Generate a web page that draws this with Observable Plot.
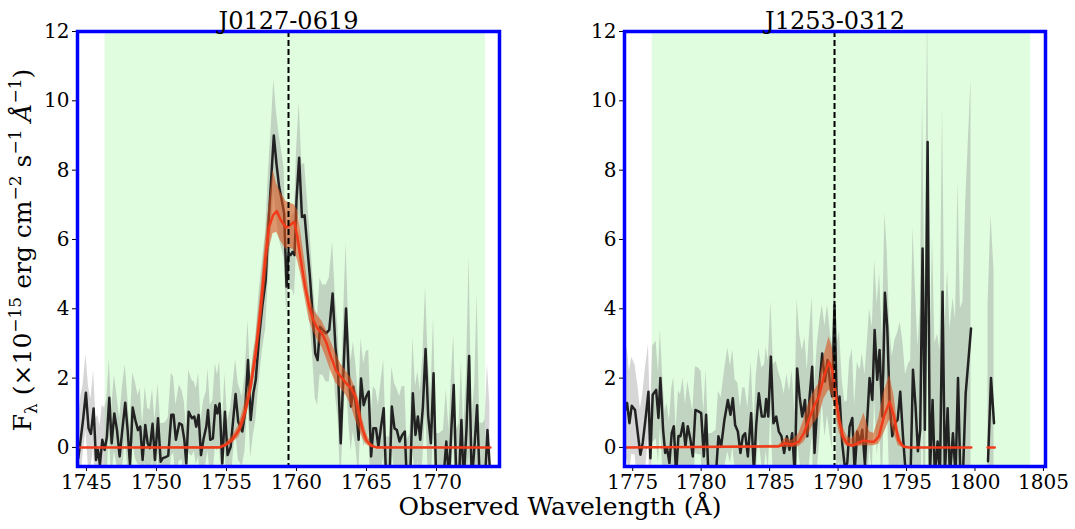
<!DOCTYPE html>
<html><head><meta charset="utf-8">
<script src="https://cdn.jsdelivr.net/npm/d3@7"></script>
<script src="https://cdn.jsdelivr.net/npm/@observablehq/plot@0.6"></script>
<style>
body{margin:0;background:#fff;}
#fig{position:relative;width:1075px;height:529px;font-family:"DejaVu Serif",serif;color:#000;overflow:hidden}
#fig svg{position:absolute;top:0;overflow:visible}
.ylab{position:absolute;left:23px;top:250px;transform:translate(-50%,-50%) rotate(-90deg);white-space:nowrap;font-size:25px;}
.ylab sup,.ylab sub{font-size:17px;}
.xlab{position:absolute;left:560px;top:506px;transform:translate(-50%,-50%);white-space:nowrap;font-size:25px;}
</style></head><body><div id="fig"></div>
<script>
// Panel titles, rest wavelengths (dashed lines), fit windows (green)
const titles = ["J0127-0619", "J1253-0312"];
const centers = [1759.43, 1789.74];
const windows = [[1746.33, 1773.5], [1776.42, 1804.07]];
const xTicksA = [1745, 1750, 1755, 1760, 1765, 1770];
const xTicksB = [1775, 1780, 1785, 1790, 1795, 1800, 1805];
const yTicks = [0, 2, 4, 6, 8, 10, 12];

// Observed spectrum: [wavelength, flux, error]
const specA = [
[1744.42,-0.31,1.1],[1744.61,0.31,1.2],[1744.75,0.77,1.0],[1744.96,1.58,1.1],[1745.15,0.55,1.2],[1745.32,0.39,1.0],[1745.51,1.12,1.1],[1745.68,-0.36,1.2],[1745.82,-0.07,1.0],[1745.96,-0.50,1.1],[1746.13,0.22,1.0],[1746.30,-0.07,1.2],[1746.46,0.31,1.1],[1746.63,1.43,1.1],[1746.80,0.12,1.0],[1746.99,0.98,1.1],[1747.18,0.50,1.0],[1747.37,-0.26,1.1],[1747.56,0.50,1.2],[1747.77,1.29,1.1],[1747.94,0.50,1.0],[1748.11,-0.50,1.1],[1748.30,1.15,1.0],[1748.49,0.79,1.1],[1748.68,0.50,1.0],[1748.84,0.60,1.1],[1749.01,-0.36,1.0],[1749.20,0.65,1.1],[1749.37,0.12,1.0],[1749.53,-0.02,1.1],[1749.72,0.68,1.0],[1749.89,-0.36,1.1],[1750.11,0.84,1.0],[1750.30,-0.41,1.1],[1750.46,-0.31,1.0],[1750.65,-0.28,1.0],[1750.84,-0.24,1.1],[1751.06,0.94,1.2],[1751.22,0.94,1.1],[1751.39,0.22,1.0],[1751.63,0.70,1.1],[1751.82,0.65,1.0],[1751.99,0.22,1.1],[1752.13,-0.46,1.0],[1752.30,1.03,1.2],[1752.53,0.84,1.1],[1752.70,0.89,1.0],[1752.84,0.60,1.1],[1753.01,0.94,1.2],[1753.18,-0.22,1.0],[1753.37,0.26,1.1],[1753.56,0.60,1.0],[1753.68,1.08,1.2],[1753.84,0.22,1.0],[1754.03,0.26,1.1],[1754.21,1.22,1.2],[1754.35,0.98,1.1],[1754.51,1.27,1.2],[1754.70,-0.46,1.0],[1754.89,1.03,1.1],[1755.08,-0.22,1.0],[1755.30,0.02,1.1],[1755.65,1.54,1.0],[1755.84,0.74,1.1],[1756.13,0.46,1.0],[1756.32,0.98,1.1],[1756.54,2.52,1.15],[1756.73,0.79,1.1],[1756.92,1.56,1.2],[1757.09,1.95,1.2],[1757.33,3.19,1.3],[1757.57,4.11,1.3],[1757.80,4.83,1.4],[1758.00,6.46,1.5],[1758.19,7.71,1.5],[1758.38,9.00,1.6],[1758.57,8.19,1.5],[1758.76,7.52,1.5],[1758.95,7.13,1.4],[1759.12,6.75,1.3],[1759.29,4.64,0.8],[1759.43,5.60,0.9],[1759.58,5.55,1.0],[1759.72,5.64,1.1],[1759.86,5.55,1.2],[1760.00,7.13,1.4],[1760.19,8.36,1.6],[1760.39,6.65,1.5],[1760.58,6.70,1.5],[1760.77,5.79,1.4],[1760.96,4.92,1.3],[1761.15,3.87,1.2],[1761.34,2.71,1.3],[1761.51,2.52,1.3],[1761.68,3.48,1.4],[1761.87,3.39,1.3],[1762.11,3.29,1.4],[1762.34,3.39,1.5],[1762.58,4.44,1.5],[1762.78,2.91,1.4],[1762.97,2.14,1.3],[1763.16,0.12,1.2],[1763.35,2.14,1.5],[1763.54,4.01,1.9],[1763.73,2.14,1.4],[1763.90,1.18,1.3],[1764.06,1.75,1.3],[1764.25,1.18,1.2],[1764.44,0.22,1.1],[1764.61,1.99,1.15],[1764.80,1.22,1.2],[1764.97,1.46,1.3],[1765.16,1.61,1.2],[1765.33,-0.26,1.1],[1765.49,0.55,1.2],[1765.68,0.55,1.1],[1765.85,0.02,1.2],[1766.04,0.60,1.3],[1766.23,1.13,1.4],[1766.40,-0.90,1.2],[1766.64,-1.00,1.3],[1766.81,1.18,1.15],[1767.00,0.55,1.3],[1767.17,0.50,1.2],[1767.36,0.17,1.3],[1767.55,0.36,1.4],[1767.74,0.46,1.3],[1767.88,-1.00,1.2],[1768.12,-0.90,1.3],[1768.31,1.56,1.6],[1768.50,0.36,1.4],[1768.67,0.89,1.3],[1768.84,0.22,1.4],[1769.03,1.18,1.5],[1769.22,2.84,1.8],[1769.41,0.89,1.6],[1769.60,0.12,1.4],[1769.79,2.14,1.6],[1769.98,-1.00,1.4],[1770.22,-1.10,1.5],[1770.50,-0.90,1.4],[1770.70,0.17,1.5],[1770.89,-0.90,1.4],[1771.06,0.50,1.5],[1771.23,1.80,1.45],[1771.42,-1.00,1.5],[1771.61,-0.90,1.6],[1771.78,0.79,1.7],[1771.94,-1.00,1.5],[1772.14,0.50,1.6],[1772.33,2.64,2.9],[1772.52,-1.00,1.8],[1772.73,0.12,1.7],[1772.90,1.22,3.2],[1773.09,-1.00,1.7],[1773.33,-1.10,1.8],[1773.47,-0.90,1.7],[1773.64,0.50,1.9],[1773.81,-0.60,1.8]
];
const specB = [
[1774.50,1.10,1.6],[1774.59,1.28,1.6],[1774.76,0.70,1.5],[1774.93,1.20,1.4],[1775.17,1.08,1.3],[1775.37,0.41,1.4],[1775.56,-0.21,1.3],[1775.73,0.13,1.4],[1775.93,0.80,1.5],[1776.15,1.61,1.35],[1776.29,-0.31,1.3],[1776.46,1.52,1.4],[1776.71,1.66,1.4],[1776.88,0.85,1.3],[1777.02,2.00,1.4],[1777.22,0.51,1.3],[1777.37,-0.16,1.2],[1777.51,-0.02,1.3],[1777.68,-0.45,1.2],[1777.85,0.41,1.3],[1778.00,0.61,1.4],[1778.17,-0.80,1.3],[1778.34,0.33,1.3],[1778.49,0.32,1.2],[1778.68,0.70,1.3],[1778.85,0.03,1.2],[1779.02,0.61,1.3],[1779.22,0.22,1.2],[1779.39,-0.26,1.3],[1779.58,1.08,1.25],[1779.80,1.04,1.25],[1780.00,0.99,1.2],[1780.19,-0.26,1.3],[1780.36,0.94,1.3],[1780.53,-0.80,1.2],[1780.80,-0.90,1.3],[1781.09,-0.70,1.2],[1781.26,0.32,1.3],[1781.46,0.03,1.4],[1781.70,0.80,1.4],[1781.95,1.37,1.5],[1782.14,0.94,1.4],[1782.31,1.42,1.4],[1782.48,0.65,1.3],[1782.68,0.46,1.4],[1782.87,-0.16,1.3],[1783.04,0.32,1.4],[1783.21,0.41,1.3],[1783.41,-0.26,1.4],[1783.65,0.99,1.5],[1783.85,-0.70,1.4],[1784.02,0.65,1.4],[1784.21,1.56,1.3],[1784.43,0.89,1.4],[1784.63,0.89,1.5],[1784.75,1.40,1.5],[1784.90,0.89,1.6],[1785.09,2.62,1.6],[1785.28,0.70,1.7],[1785.48,0.89,1.6],[1785.67,0.46,1.7],[1785.87,0.32,1.6],[1786.06,-0.16,1.7],[1786.26,0.32,1.8],[1786.45,-0.07,1.7],[1786.65,0.41,1.8],[1786.84,-0.80,1.8],[1787.01,2.28,2.0],[1787.19,1.47,1.8],[1787.38,0.89,1.9],[1787.58,1.37,1.8],[1787.75,0.32,1.9],[1787.92,1.47,1.9],[1788.11,2.33,2.0],[1788.28,-0.16,1.9],[1788.48,1.18,1.8],[1788.67,1.95,1.7],[1788.84,2.71,1.4],[1789.04,1.90,1.6],[1789.23,2.52,1.6],[1789.45,1.75,1.5],[1789.57,1.47,1.5],[1789.74,4.10,1.0],[1789.91,1.18,1.8],[1790.11,1.47,1.9],[1790.30,0.13,1.8],[1790.50,-0.60,1.9],[1790.67,-0.45,1.8],[1790.84,0.60,1.9],[1791.04,0.85,2.0],[1791.21,-0.70,1.9],[1791.40,0.46,2.0],[1791.60,0.13,2.1],[1791.77,0.51,2.2],[1791.96,-0.50,2.6],[1792.13,0.80,2.2],[1792.30,2.00,2.0],[1792.50,1.37,2.1],[1792.67,3.39,2.0],[1792.86,1.95,2.2],[1793.03,2.81,2.2],[1793.23,0.89,2.3],[1793.42,4.46,2.3],[1793.59,3.48,2.2],[1793.76,1.32,2.2],[1793.96,0.32,2.3],[1794.15,0.70,2.4],[1794.35,0.80,2.5],[1794.54,1.61,2.0],[1794.74,0.32,2.7],[1794.93,-0.70,2.8],[1795.13,-0.60,3.0],[1795.30,-0.70,3.2],[1795.47,2.24,4.1],[1795.66,1.18,3.3],[1795.83,-0.11,3.0],[1796.00,0.51,3.5],[1796.17,5.74,4.3],[1796.34,0.51,3.6],[1796.54,8.81,3.8],[1796.71,-0.80,3.5],[1796.90,1.37,4.7],[1797.07,-0.80,3.8],[1797.27,0.17,3.1],[1797.44,-0.80,3.6],[1797.63,4.49,5.3],[1797.80,-0.80,4.2],[1798.00,1.13,4.0],[1798.17,-0.80,4.2],[1798.39,0.41,3.9],[1798.58,-0.80,4.5],[1798.76,2.00,5.7],[1798.93,-0.80,4.8],[1799.12,-0.80,5.0],[1799.32,1.56,5.5],[1799.71,3.43,7.2],[1800.30,NaN,NaN],[1800.95,-0.40,4.5],[1801.17,2.00,4.7],[1801.39,0.70,4.4]
];

// Model fit: [wavelength, best, lower, upper]
const modelA = [
[1744.36,0,0,0],[1754.50,0,0,0.03],[1754.94,0.07,0.02,0.12],[1755.41,0.22,0.12,0.32],[1755.89,0.50,0.30,0.65],[1756.37,1.08,0.79,1.37],[1756.73,1.75,1.45,2.05],[1757.09,2.71,2.33,3.10],[1757.45,4.06,3.40,4.50],[1757.76,5.40,4.60,5.90],[1758.04,6.36,5.70,7.00],[1758.33,6.70,6.17,8.00],[1758.59,6.82,6.20,7.60],[1758.88,6.56,5.95,7.35],[1759.24,6.34,5.72,7.10],[1759.52,6.41,5.75,7.05],[1759.84,6.51,5.70,7.00],[1760.07,6.07,5.40,6.84],[1760.31,5.40,5.00,6.20],[1760.62,4.63,4.30,5.30],[1760.91,4.06,3.67,4.44],[1761.20,3.67,3.35,4.00],[1761.51,3.43,3.10,3.80],[1761.82,3.29,2.90,3.65],[1762.11,3.05,2.60,3.40],[1762.46,2.62,2.20,3.05],[1762.82,2.23,1.85,2.71],[1763.18,2.04,1.70,2.40],[1763.54,1.85,1.50,2.20],[1763.90,1.71,1.20,2.00],[1764.21,1.46,0.80,1.70],[1764.50,0.90,0.50,1.30],[1764.73,0.50,0.25,0.80],[1765.00,0.20,0.08,0.40],[1765.33,0.05,0,0.12],[1765.70,0,0,0.02],[1773.85,0,0,0]
];
const modelB = [
[1774.40,0,0,0],[1785.67,0.03,0,0.06],[1786.16,0.12,0,0.27],[1786.65,0.08,0,0.20],[1787.14,0.17,0.03,0.40],[1787.50,0.41,0.15,0.80],[1787.87,0.80,0.40,1.30],[1788.23,1.18,0.70,1.60],[1788.60,1.47,0.89,1.85],[1788.96,2.04,1.40,2.60],[1789.33,2.47,1.66,3.19],[1789.57,2.24,1.50,2.90],[1789.82,1.56,1.00,2.00],[1790.06,0.80,0.46,1.18],[1790.35,0.32,0.15,0.60],[1790.67,0.10,0.03,0.30],[1791.04,0.05,0.02,0.25],[1791.52,0.14,0.03,0.60],[1791.89,0.20,0.05,0.99],[1792.30,0.17,0.05,0.45],[1792.62,0.16,0.05,0.40],[1792.98,0.32,0.10,0.85],[1793.35,0.89,0.40,1.60],[1793.76,1.32,0.80,2.09],[1794.08,0.89,0.40,1.50],[1794.40,0.22,0.05,0.50],[1794.74,0.03,0,0.08],[1795.18,0,0,0],[1799.73,0,0,0],[1800.30,NaN,NaN,NaN],[1800.92,0,0,0],[1801.44,0,0,0]
];

const fig = document.getElementById("fig");
const yDomain = [-0.55, 12];

function panel({spec, model, win, center, title, xDomain, xTicks, width, marginRight, left}) {
  const obs = spec.map(([w, f, e]) => ({w, f, lo: f - e, hi: f + e}));
  const fit = model.map(([w, b, lo, hi]) => ({w, b, lo, hi}));
  const svg = Plot.plot({
    width, height: 529,
    marginLeft: 77, marginRight, marginTop: 31, marginBottom: 63,
    style: {fontFamily: "DejaVu Serif", fontSize: "20px", color: "#000", background: "transparent", overflow: "visible"},
    x: {domain: xDomain, ticks: xTicks, tickFormat: d => String(d), label: null, tickSize: 5, tickPadding: 3},
    y: {domain: yDomain, ticks: yTicks, tickFormat: d => String(d), label: null, tickSize: 5, tickPadding: 3},
    marks: [
      Plot.rect([win], {x1: d => d[0], x2: d => d[1], fill: "#e0fde0"}),
      Plot.areaY(obs, {x: "w", y1: "lo", y2: "hi", fill: "#808080", fillOpacity: 0.32, clip: true}),
      Plot.line(obs, {x: "w", y: "f", stroke: "#222", strokeWidth: 2.5, clip: true}),
      Plot.areaY(fit, {x: "w", y1: "lo", y2: "hi", fill: "#d9541e", fillOpacity: 0.6, clip: true}),
      Plot.line(fit, {x: "w", y: "b", stroke: "#f03a1a", strokeWidth: 2.5, clip: true}),
      Plot.ruleX([center], {stroke: "#000", strokeWidth: 2, strokeDasharray: "6,3"}),
      Plot.frame({stroke: "#0000ff", strokeWidth: 3.5}),
      Plot.text([title], {frameAnchor: "top", lineAnchor: "bottom", dy: -3, text: d => d, fontSize: 24, fill: "#000"})
    ]
  });
  svg.style.left = left + "px";
  fig.appendChild(svg);
}

panel({spec: specA, model: modelA, win: windows[0], center: centers[0], title: titles[0],
  xDomain: [1744.36, 1774.5], xTicks: xTicksA, width: 547, marginRight: 48, left: 0});
panel({spec: specB, model: modelB, win: windows[1], center: centers[1], title: titles[1],
  xDomain: [1774.4, 1805.15], xTicks: xTicksB, width: 528, marginRight: 30, left: 547});

const yl = document.createElement("div");
yl.className = "ylab";
yl.innerHTML = "F<sub>λ</sub> (×10<sup>−15</sup> erg cm<sup>−2</sup> s<sup>−1</sup> <i>Å</i><sup>−1</sup>)";
fig.appendChild(yl);
const xl = document.createElement("div");
xl.className = "xlab";
xl.textContent = "Observed Wavelength (Å)";
fig.appendChild(xl);
</script>
</body></html>
